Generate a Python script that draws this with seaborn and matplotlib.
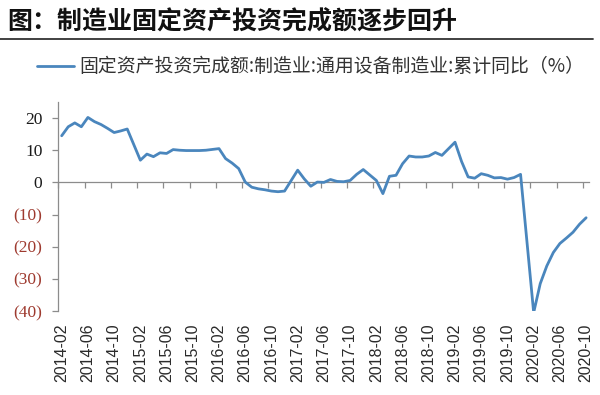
import pandas as pd
import numpy as np
import matplotlib.pyplot as plt
import seaborn as sns
from matplotlib.lines import Line2D

# monthly cumulative YoY (%), January is not published -> None
months = pd.period_range('2014-02', '2020-10', freq='M')
yoy = [14.5, 17.3, 18.5, 17.3, 20.2, 18.9, 18.0, 16.8, 15.5, 16.0, 16.6,   # 2014
       None, 6.9, 8.8, 8.0, 9.2, 9.0, 10.2, 10.0, 9.9, 9.9, 9.9, 10.0,     # 2015
       None, 10.5, 7.4, 6.0, 4.3, 0.1, -1.5, -2.0, -2.3, -2.7, -2.9, -2.7, # 2016
       None, 3.8, 1.1, -1.2, 0.1, 0.0, 0.9, 0.3, 0.2, 0.6, 2.5, 4.0,       # 2017
       None, 0.6, -3.5, 1.9, 2.2, 5.8, 8.2, 7.9, 7.9, 8.2, 9.3, 8.4,       # 2018
       None, 12.5, 6.5, 1.7, 1.3, 2.7, 2.2, 1.4, 1.5, 1.0, 1.5, 2.5,       # 2019
       None, -40.5, -31.5, -26.0, -21.8, -19.0, -17.3, -15.5, -13.0, -11.0]  # 2020

title = '图：制造业固定资产投资完成额逐步回升'
series_name = '固定资产投资完成额:制造业:通用设备制造业:累计同比（%）'
y_ticks = [20, 10, 0, -10, -20, -30, -40]
y_labels = ['20', '10', '0', '(10)', '(20)', '(30)', '(40)']
x_tick_pos = np.arange(0, len(months), 4)
x_tick_labels = [str(m) for m in months[::4]]

df = pd.DataFrame({'month': months.astype(str), 'yoy': yoy})
df['pos'] = np.arange(len(df))
df = df.dropna()

line_color = '#4a86bd'
axis_gray = '#8c8c8c'
neg_red = '#9e3a2f'

sns.set_theme(style='white')
plt.rcParams['font.family'] = ['Noto Sans CJK SC', 'DejaVu Sans']

fig = plt.figure(figsize=(6, 3.95), dpi=100)
ax = fig.add_axes([58.4 / 600, 84 / 395, 531 / 600, 209 / 395])

sns.lineplot(data=df, x='pos', y='yoy', ax=ax, color=line_color,
             linewidth=2.0, label=series_name)
ax.set_xlim(-0.5, len(months) - 0.5)
ax.set_ylim(-40, 25)
ax.set_xlabel('')
ax.set_ylabel('')

# spines
sns.despine(ax=ax, bottom=True)
ax.spines['left'].set_color(axis_gray)
ax.spines['left'].set_linewidth(0.9)

# y axis: accounting style negatives
ax.set_yticks(y_ticks, y_labels, family='Liberation Serif', fontsize=12.5)
ax.tick_params(axis='y', left=True, length=4.5, width=0.9, color=axis_gray,
               pad=7, direction='out')
for lbl in ax.get_yticklabels():
    lbl.set_color(neg_red if lbl.get_text().startswith('(') else '#1a1a1a')

# x labels at the bottom, no tick marks
ax.set_xticks(x_tick_pos, x_tick_labels, rotation=90,
              family='Liberation Sans', fontsize=11.5, color='#2b2b2b')
ax.tick_params(axis='x', bottom=True, length=0, pad=9)

# zero line with category tick marks
sec = ax.secondary_xaxis(40 / 65)
sec.set_alignment('bottom')
sec.set_xticks(np.arange(-0.5, len(months), 4))
sec.tick_params(axis='x', bottom=True, top=False, labelbottom=False,
                length=4, width=0.9, color=axis_gray, direction='out')
for s in sec.spines.values():
    s.set_color(axis_gray)
    s.set_linewidth(0.9)

# legend above the plot
leg = ax.legend(loc='center left', bbox_to_anchor=(37 / 600, 1 - 67 / 395),
                bbox_transform=fig.transFigure, frameon=False, fontsize=13.6,
                handlelength=1.95, handletextpad=0.3, borderpad=0,
                borderaxespad=0)
for t in leg.get_texts():
    t.set_color('#333333')

# title and rule
fig.text(7 / 600, 1 - 22 / 395, title, fontsize=18, fontweight='bold',
         ha='left', va='center', color='#111111')
fig.add_artist(Line2D([0, 593 / 600], [1 - 39 / 395] * 2,
                      transform=fig.transFigure, color='#333333', lw=1.3))

fig.savefig('out.png', dpi=100)
